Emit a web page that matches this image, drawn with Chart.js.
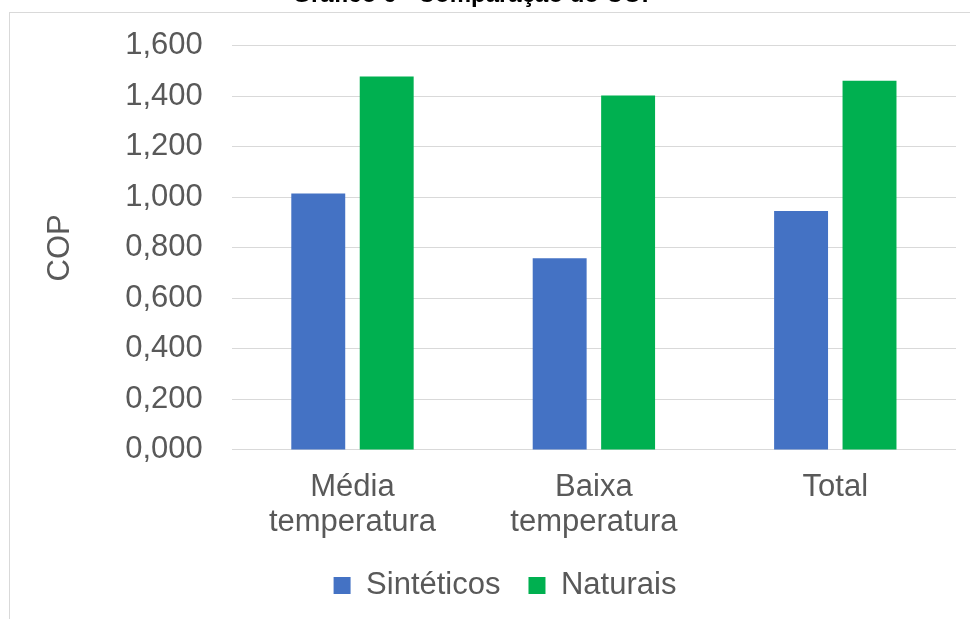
<!DOCTYPE html>
<html>
<head>
<meta charset="utf-8">
<script src="https://cdn.jsdelivr.net/npm/chart.js@4"></script>
<style>
	html, body { margin: 0; padding: 0; background: #fff; overflow: hidden; }
	#frame {
		position: absolute; left: 9px; top: 12px; width: 1000px; height: 700px;
		border: 1px solid #d9d9d9; box-sizing: border-box;
	}
	#wrap { position: absolute; left: 0; top: -24px; width: 970px; height: 643px; }
</style>
</head>
<body>
<div id="frame"></div>
<div id="wrap"><canvas id="copChart"></canvas></div>
<script>
// categories and values
const categories = [['Média', 'temperatura'], ['Baixa', 'temperatura'], 'Total'];
const sinteticos = [1.015, 0.759, 0.946];
const naturais = [1.478, 1.403, 1.462];
const yTickLabels = ['0,000', '0,200', '0,400', '0,600', '0,800', '1,000', '1,200', '1,400', '1,600'];

const textColor = '#595959';
const fontFamily = "'Liberation Sans', Arial, sans-serif";

// nudge legend and title sideways, like the Excel layout
const nudgeBlocks = {
	id: 'nudgeBlocks',
	afterLayout(chart) {
		chart.legend.left += 22;
		chart.legend.right += 22;
		chart.titleBlock.left -= 8;
		chart.titleBlock.right -= 8;
	},
};

const ctx = document.getElementById('copChart').getContext('2d');

new Chart(ctx, {
	type: 'bar',
	data: {
		labels: categories,
		datasets: [
			{
				label: 'Sintéticos',
				data: sinteticos,
				backgroundColor: '#4472C4',
				borderWidth: 0,
			},
			{
				label: 'Naturais',
				data: naturais,
				backgroundColor: '#00B050',
				borderWidth: 0,
			},
		],
	},
	plugins: [nudgeBlocks],
	options: {
		responsive: true,
		maintainAspectRatio: false,
		animation: false,
		categoryPercentage: 0.567,
		barPercentage: 0.788,
		layout: {
			padding: { left: 10, right: 14, bottom: 8 },
		},
		plugins: {
			title: {
				display: true,
				text: 'Gráfico 6 - Comparação do COP',
				color: '#000',
				font: { family: fontFamily, size: 24, weight: 'bold' },
				padding: { top: 5, bottom: 36 },
			},
			legend: {
				position: 'bottom',
				labels: {
					color: textColor,
					font: { family: fontFamily, size: 31 },
					boxWidth: 17,
					boxHeight: 17,
					padding: 28,
				},
			},
			tooltip: { enabled: false },
		},
		scales: {
			x: {
				grid: { display: false, drawTicks: false },
				border: { display: false },
				ticks: {
					color: textColor,
					font: { family: fontFamily, size: 31, lineHeight: 1.13 },
					padding: 20,
					maxRotation: 0,
				},
				afterFit: (scale) => {
					scale.height -= 18;
				},
			},
			y: {
				min: 0,
				max: 1.6,
				border: { display: false },
				grid: { color: '#d9d9d9', lineWidth: 1, drawTicks: false },
				ticks: {
					stepSize: 0.2,
					color: textColor,
					font: { family: fontFamily, size: 31 },
					padding: 29,
					callback: (value, index) => yTickLabels[index],
				},
				title: {
					display: true,
					text: 'COP',
					color: textColor,
					font: { family: fontFamily, size: 31 },
					padding: { top: 32, bottom: 17 },
				},
			},
		},
	},
});
</script>
</body>
</html>
